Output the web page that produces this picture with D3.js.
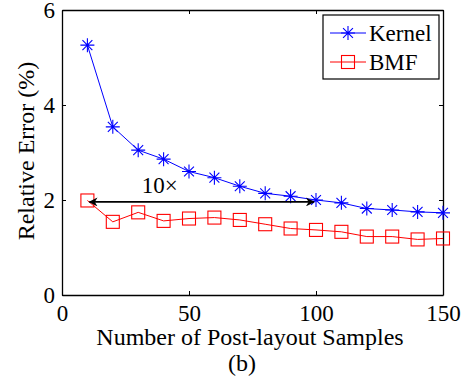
<!DOCTYPE html>
<html>
<head>
<meta charset="utf-8">
<script src="https://cdn.jsdelivr.net/npm/d3@7"></script>
<style>
	body { margin: 0; background: #fff; }
	svg text { font-family: 'Liberation Serif', 'Times New Roman', serif; fill: #000; }
</style>
</head>
<body>
<div id="chart"></div>
<script>
// data
const samples = [10, 20, 30, 40, 50, 60, 70, 80, 90, 100, 110, 120, 130, 140, 150];
const kernelErr = [5.26, 3.54, 3.05, 2.86, 2.6, 2.47, 2.29, 2.14, 2.08, 2.0, 1.94, 1.82, 1.79, 1.75, 1.73];
const bmfErr = [1.99, 1.54, 1.74, 1.56, 1.61, 1.63, 1.58, 1.49, 1.4, 1.37, 1.33, 1.23, 1.23, 1.17, 1.19];
const xTicks = [0, 50, 100, 150];
const yTicks = [0, 2, 4, 6];
const seriesNames = ['Kernel', 'BMF'];
const arrowFrom = 10, arrowTo = 100, arrowLevel = 1.96;

const width = 466, height = 381;
const margin = { top: 10, right: 23, bottom: 86, left: 62 };
const plotW = width - margin.left - margin.right;
const plotH = height - margin.top - margin.bottom;

const svg = d3.select('#chart').append('svg')
	.attr('width', width)
	.attr('height', height);

const x = d3.scaleLinear().domain([0, 150]).range([margin.left, margin.left + plotW]);
const y = d3.scaleLinear().domain([0, 6]).range([margin.top + plotH, margin.top]);

// axes, ticks pointing inwards, mirrored on top/right
const fontSize = 23;
const titleSize = 24;
const fmt = d3.format('d');
const axB = svg.append('g').attr('transform', `translate(0,${y(0)})`)
	.call(d3.axisBottom(x).tickValues(xTicks).tickFormat(fmt).tickSizeInner(-4).tickSizeOuter(0).tickPadding(8));
const axT = svg.append('g').attr('transform', `translate(0,${y(6)})`)
	.call(d3.axisTop(x).tickValues(xTicks).tickSizeInner(-4).tickSizeOuter(0).tickFormat(''));
const axL = svg.append('g').attr('transform', `translate(${x(0)},0)`)
	.call(d3.axisLeft(y).tickValues(yTicks).tickFormat(fmt).tickSizeInner(-4).tickSizeOuter(0).tickPadding(7));
const axR = svg.append('g').attr('transform', `translate(${x(150)},0)`)
	.call(d3.axisRight(y).tickValues(yTicks).tickSizeInner(-4).tickSizeOuter(0).tickFormat(''));

[axB, axT, axL, axR].forEach((g) => {
	g.attr('font-size', fontSize).attr('font-family', "'Liberation Serif', serif");
	g.select('.domain').attr('stroke', '#000').attr('stroke-width', 1.3);
	g.selectAll('.tick line').attr('stroke', '#000');
	g.selectAll('.tick text').attr('fill', '#000');
});
axB.selectAll('.tick text').attr('dy', '0.78em');

const line = d3.line().x((d) => x(d[0])).y((d) => y(d[1]));
const kernelPts = samples.map((s, i) => [s, kernelErr[i]]);
const bmfPts = samples.map((s, i) => [s, bmfErr[i]]);

function star(g, cx, cy, r, color) {
	const p = d3.path();
	for (let k = 0; k < 4; k++) {
		const a = k * Math.PI / 4;
		p.moveTo(cx - r * Math.cos(a), cy - r * Math.sin(a));
		p.lineTo(cx + r * Math.cos(a), cy + r * Math.sin(a));
	}
	g.append('path').attr('d', p.toString()).attr('stroke', color).attr('stroke-width', 1.1).attr('fill', 'none');
}
function square(g, cx, cy, s, color) {
	g.append('rect').attr('x', cx - s / 2).attr('y', cy - s / 2)
		.attr('width', s).attr('height', s)
		.attr('fill', 'none').attr('stroke', color).attr('stroke-width', 1.1);
}

svg.append('path').datum(kernelPts).attr('d', line)
	.attr('fill', 'none').attr('stroke', '#0000ff').attr('stroke-width', 1);
const kg = svg.append('g');
kernelPts.forEach((d) => star(kg, x(d[0]), y(d[1]), 7, '#0000ff'));

svg.append('path').datum(bmfPts).attr('d', line)
	.attr('fill', 'none').attr('stroke', '#ff0000').attr('stroke-width', 1);
const bg = svg.append('g');
bmfPts.forEach((d) => square(bg, x(d[0]), y(d[1]), 13, '#ff0000'));

// double arrow annotation
const defs = svg.append('defs');
defs.append('marker').attr('id', 'ah').attr('viewBox', '0 0 10 10')
	.attr('refX', 9).attr('refY', 5).attr('markerWidth', 12).attr('markerHeight', 9)
	.attr('markerUnits', 'userSpaceOnUse').attr('orient', 'auto-start-reverse')
	.append('path').attr('d', 'M0,0 L10,5 L0,10 L3,5 Z').attr('fill', '#000');
svg.append('line')
	.attr('x1', x(arrowFrom) + 2).attr('x2', x(arrowTo) - 2)
	.attr('y1', y(arrowLevel)).attr('y2', y(arrowLevel))
	.attr('stroke', '#000').attr('stroke-width', 1.8)
	.attr('marker-start', 'url(#ah)').attr('marker-end', 'url(#ah)');
svg.append('text').attr('x', x(38.5)).attr('y', y(arrowLevel) - 9)
	.attr('text-anchor', 'middle').attr('font-size', fontSize).text('10\u00d7');

// legend
const lg = svg.append('g');
lg.append('rect').attr('x', 323).attr('y', 15).attr('width', 116).attr('height', 64)
	.attr('fill', '#fff').attr('stroke', '#000').attr('stroke-width', 1.2);
seriesNames.forEach((name, i) => {
	const cy = 33 + i * 29;
	const color = i === 0 ? '#0000ff' : '#ff0000';
	lg.append('line').attr('x1', 330).attr('x2', 366).attr('y1', cy).attr('y2', cy)
		.attr('stroke', color).attr('stroke-width', 1);
	if (i === 0) star(lg, 348, cy, 7, color); else square(lg, 348, cy, 13, color);
	lg.append('text').attr('x', 369).attr('y', cy + 8).attr('font-size', fontSize).text(name);
});

// titles
svg.append('text').attr('x', 250).attr('y', 345)
	.attr('text-anchor', 'middle').attr('font-size', titleSize).text('Number of Post-layout Samples');
svg.append('text').attr('x', 242).attr('y', 371)
	.attr('text-anchor', 'middle').attr('font-size', titleSize).text('(b)');
svg.append('text').attr('transform', `translate(34,151) rotate(-90)`)
	.attr('text-anchor', 'middle').attr('font-size', titleSize).text('Relative Error (%)');
</script>
</body>
</html>
